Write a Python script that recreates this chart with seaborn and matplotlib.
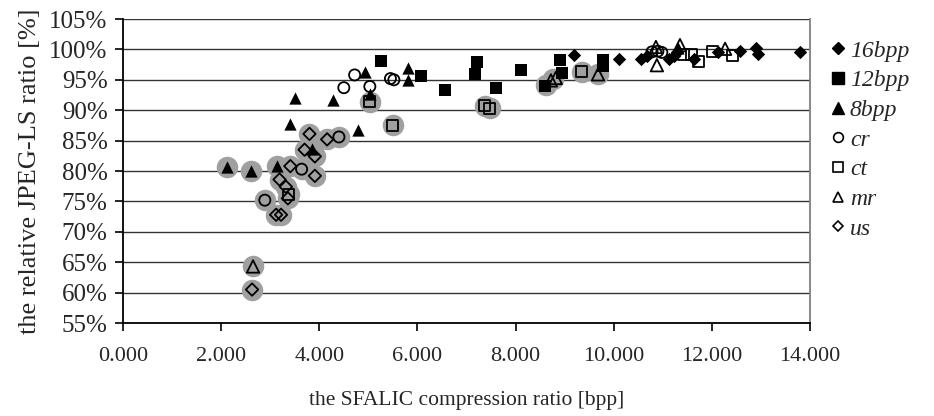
import matplotlib
matplotlib.use("Agg")
import matplotlib.pyplot as plt
from matplotlib.lines import Line2D
from matplotlib.ticker import FuncFormatter
import seaborn as sns

# bit depth series (filled markers)
bpp16_x = [9.20, 10.10, 10.55, 10.68, 11.13, 11.22, 11.28, 11.64, 12.13, 12.57, 12.90, 12.94, 13.79]
bpp16_y = [99.1, 98.5, 98.5, 98.9, 98.5, 98.9, 99.6, 98.4, 99.5, 99.8, 100.3, 99.3, 99.6]
bpp12_x = [5.25, 6.08, 6.57, 7.22, 7.18, 7.60, 8.12, 8.59, 8.90, 8.95, 9.79, 9.78]
bpp12_y = [98.1, 95.6, 93.4, 98.0, 96.0, 93.6, 96.6, 93.9, 98.2, 96.1, 98.3, 97.2]
bpp8_x = [2.11, 2.60, 3.14, 3.41, 3.50, 3.86, 4.28, 4.79, 4.94, 5.03, 5.81, 5.80, 11.30]
bpp8_y = [80.6, 80.05, 80.8, 87.7, 92.0, 83.7, 91.6, 86.7, 96.3, 92.6, 97.0, 95.0, 100.2]

# modality series (open markers)
cr_x = [2.89, 3.64, 4.40, 4.50, 4.72, 5.03, 5.45, 5.52, 10.78, 10.90, 10.98]
cr_y = [75.2, 80.3, 85.6, 93.7, 95.8, 93.9, 95.2, 95.0, 99.6, 99.7, 99.5]
ct_x = [3.38, 5.03, 5.50, 7.37, 7.47, 9.35, 11.42, 11.58, 11.72, 12.01, 12.42]
ct_y = [76.2, 91.4, 87.5, 90.7, 90.3, 96.3, 99.2, 99.2, 98.0, 99.7, 99.0]
mr_x = [2.65, 8.72, 8.82, 9.68, 10.86, 10.88, 11.35, 12.27]
mr_y = [64.3, 94.9, 95.3, 95.9, 100.4, 97.4, 100.7, 100.1]
us_x = [2.63, 3.12, 3.22, 3.19, 3.32, 3.36, 3.41, 3.70, 3.80, 3.91, 3.91, 4.16]
us_y = [60.5, 72.8, 72.8, 78.6, 77.4, 75.5, 80.8, 83.5, 86.1, 82.4, 79.2, 85.2]

# highlighted points (grey discs)
hl_x = [2.11, 2.60, 3.14, 2.89, 3.64, 4.40, 2.65, 2.63, 3.12, 3.22, 3.19, 3.32, 3.36, 3.38,
        3.41, 3.70, 3.80, 3.91, 3.91, 4.16, 3.86, 5.03, 5.50, 7.37, 7.47, 8.62, 8.77, 9.35, 9.68]
hl_y = [80.6, 80.05, 80.8, 75.2, 80.3, 85.6, 64.3, 60.5, 72.8, 72.8, 78.6, 77.4, 75.5, 76.2,
        80.8, 83.5, 86.1, 82.4, 79.2, 85.2, 83.7, 91.4, 87.5, 90.7, 90.3, 94.2, 95.1, 96.3, 95.9]

sns.set_style("white")
plt.rcParams['font.family'] = ['Liberation Serif', 'DejaVu Serif']

fig = plt.figure(figsize=(9.34, 4.16), dpi=100)
ax = fig.add_axes([123/934, 1-323/416, 687/934, 304/416])

sns.scatterplot(x=hl_x, y=hl_y, ax=ax, marker='o', s=240, color='#a0a0a0', linewidth=0, zorder=2)

filled = [(bpp16_x, bpp16_y, 'D', 46), (bpp12_x, bpp12_y, 's', 85), (bpp8_x, bpp8_y, '^', 78)]
for xs, ys, m, s in filled:
    sns.scatterplot(x=xs, y=ys, ax=ax, marker=m, s=s, color='black', linewidth=0, zorder=3)

openm = [(cr_x, cr_y, 'o', 64), (ct_x, ct_y, 's', 64), (mr_x, mr_y, '^', 80), (us_x, us_y, 'D', 40)]
for xs, ys, m, s in openm:
    ax.scatter(xs, ys, marker=m, s=s, facecolors='none', edgecolors='black', linewidths=1.3, zorder=4)

ax.set_xlim(0, 14)
ax.set_ylim(55, 105)
ax.set_xticks(range(0, 15, 2))
ax.set_yticks(range(55, 106, 5))
ax.xaxis.set_major_formatter(FuncFormatter(lambda v, p: f"{v:.3f}"))
ax.yaxis.set_major_formatter(FuncFormatter(lambda v, p: f"{v:.0f}%"))
ax.grid(axis='y', color='#333333', linewidth=1.0)
ax.grid(axis='x', visible=False)
ax.set_axisbelow(True)
for sp in ['left', 'bottom']:
    ax.spines[sp].set_color('black')
    ax.spines[sp].set_linewidth(1.3)
ax.spines['top'].set_visible(False)
ax.spines['right'].set_color('#808080')
ax.spines['right'].set_linewidth(1.3)
ax.tick_params(axis='both', direction='out', length=6, width=1.2, color='black',
               left=True, bottom=True)
ax.tick_params(axis='x', labelsize=16, pad=11)
ax.tick_params(axis='y', labelsize=18, pad=5)

ax.set_xlabel("the SFALIC compression ratio [bpp]", fontsize=15.5, labelpad=18)
ax.set_ylabel("the relative JPEG-LS ratio [%]", fontsize=19, labelpad=6)

handles = [
    Line2D([], [], ls='none', marker='D', ms=6, color='black', label='16bpp'),
    Line2D([], [], ls='none', marker='s', ms=8, color='black', label='12bpp'),
    Line2D([], [], ls='none', marker='^', ms=8, color='black', label='8bpp'),
    Line2D([], [], ls='none', marker='o', ms=7, mfc='none', mec='black', mew=1.2, label='cr'),
    Line2D([], [], ls='none', marker='s', ms=7, mfc='none', mec='black', mew=1.2, label='ct'),
    Line2D([], [], ls='none', marker='^', ms=7, mfc='none', mec='black', mew=1.2, label='mr'),
    Line2D([], [], ls='none', marker='D', ms=5, mfc='none', mec='black', mew=1.2, label='us'),
]
fig.legend(handles=handles, loc='upper left', bbox_to_anchor=(831/934, 1-40/416),
           frameon=False, prop={'style': 'italic', 'size': 17}, handlelength=0.6,
           handletextpad=0.2, labelspacing=0.345, borderpad=0, borderaxespad=0)

fig.savefig("out.png", dpi=100)
